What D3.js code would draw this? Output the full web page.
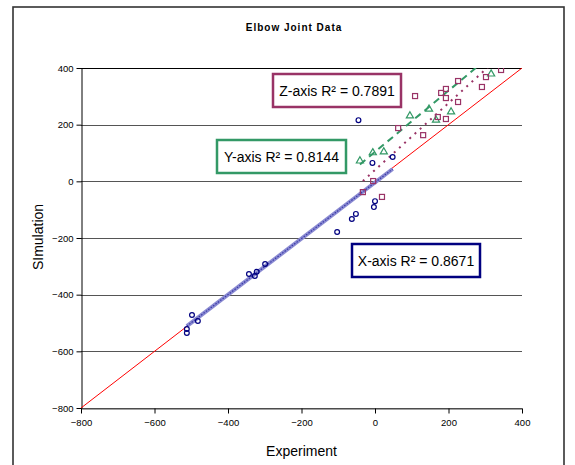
<!DOCTYPE html>
<html>
<head>
<meta charset="utf-8">
<script src="https://cdn.jsdelivr.net/npm/d3@7"></script>
<style>
  body { margin: 0; background: #fff; }
  svg { display: block; font-family: Arial, "Liberation Sans", sans-serif; }
</style>
</head>
<body>
<svg id="chart" width="575" height="465"></svg>
<script>
// Experiment vs simulation, one pair of arrays per axis
const xExp = [-45, -7, 48, 0, -3, -52, -63, -103, -299, -322, -343, -327, -498, -482, -512, -512];
const xSim = [216, 65, 86, -70, -91, -115, -133, -179, -292, -319, -327, -334, -472, -493, -521, -535];

const yExp = [-41, -6, 24, 95, 147, 166, 207, 316];
const ySim = [72, 101, 104, 231, 255, 216, 245, 379];

const zExp = [343, 302, 291, 226, 193, 180, 193, 226, 171, 193, 109, 131, 63, -5, -33, 19];
const zSim = [393, 368, 333, 354, 326, 312, 294, 280, 227, 220, 301, 163, 188, 1, -38, -55];

// linear trendlines as Excel drew them (slope, intercept) for X, Y, Z
const trendSlope = [0.99, 1.08, 1.18];
const trendIntercept = [-4, 104, 40];
const r2Labels = ["X-axis R\u00B2 = 0.8671", "Y-axis R\u00B2 = 0.8144", "Z-axis R\u00B2 = 0.7891"];

// the 1:1 reference line
const identity = [-800, 400];
const ticks = [-800, -600, -400, -200, 0, 200, 400];

const svg = d3.select("#chart");
const pL = 81, pR = 522, pT = 68, pB = 408;

const x = d3.scaleLinear().domain([-800, 400]).range([pL, pR]);
const y = d3.scaleLinear().domain([-800, 400]).range([pB, pT]);

// outer chart frame
svg.append("rect")
  .attr("x", 13).attr("y", 7)
  .attr("width", 551).attr("height", 470)
  .attr("fill", "none")
  .attr("stroke", "#333")
  .attr("stroke-width", 1.6);

svg.append("text")
  .attr("x", 294).attr("y", 31)
  .attr("text-anchor", "middle")
  .attr("font-size", 10)
  .attr("font-weight", "bold")
  .attr("letter-spacing", 1)
  .text("Elbow Joint Data");

svg.append("defs").append("clipPath").attr("id", "plot")
  .append("rect")
  .attr("x", pL).attr("y", pT)
  .attr("width", pR - pL).attr("height", pB - pT);

// gridlines
svg.append("g")
  .selectAll("line")
  .data(ticks)
  .join("line")
  .attr("x1", pL).attr("x2", pR)
  .attr("y1", d => Math.round(y(d)) + 0.5)
  .attr("y2", d => Math.round(y(d)) + 0.5)
  .attr("stroke", d => d === 400 ? "#000" : "#555")
  .attr("stroke-width", 1);

// axes
const xAxis = svg.append("g")
  .attr("transform", `translate(0,${Math.round(pB) + 0.5})`)
  .call(d3.axisBottom(x).tickValues(ticks).tickSize(5).tickPadding(6).tickSizeOuter(0));
const yAxis = svg.append("g")
  .attr("transform", `translate(${pL + 0.5},0)`)
  .call(d3.axisLeft(y).tickValues(ticks).tickSize(5).tickPadding(3).tickSizeOuter(0));

[xAxis, yAxis].forEach(a => {
  a.attr("font-family", null).attr("font-size", null);
  a.selectAll("text").attr("font-size", 9.5).attr("fill", "#000");
  a.selectAll("line").attr("stroke", "#000");
  a.select(".domain").attr("stroke", "#000");
});
xAxis.select(".domain").attr("stroke", "#444");

svg.append("text")
  .attr("x", (pL + pR) / 2).attr("y", 456)
  .attr("text-anchor", "middle")
  .attr("font-size", 14)
  .text("Experiment");

svg.append("text")
  .attr("transform", `translate(43,${(pT + pB) / 2 - 1}) rotate(-90)`)
  .attr("text-anchor", "middle")
  .attr("font-size", 14)
  .text("SImulation");

const plot = svg.append("g").attr("clip-path", "url(#plot)");

// 1:1 line
plot.append("line")
  .attr("x1", x(identity[0])).attr("y1", y(identity[0]))
  .attr("x2", x(identity[1])).attr("y2", y(identity[1]))
  .attr("stroke", "#ff0000")
  .attr("stroke-width", 1);

const series = [
  { exp: xExp, sim: xSim, color: "#000080" },
  { exp: yExp, sim: ySim, color: "#339966" },
  { exp: zExp, sim: zSim, color: "#993366" }
];

function trendPoints(i) {
  const [lo, hi] = d3.extent(series[i].exp);
  return [lo, hi].map(v => [v, trendSlope[i] * v + trendIntercept[i]]);
}
const line = d3.line().x(d => x(d[0])).y(d => y(d[1]));

// X trendline: thick hatched band
plot.append("path")
  .attr("d", line(trendPoints(0)))
  .attr("stroke", "#8a8ad2").attr("stroke-width", 4).attr("fill", "none");
plot.append("path")
  .attr("d", line(trendPoints(0)))
  .attr("stroke", "#3a3aa6").attr("stroke-width", 1.2)
  .attr("stroke-dasharray", "1.5 1.5").attr("fill", "none");

// Y trendline: dashed green
plot.append("path")
  .attr("d", line(trendPoints(1)))
  .attr("stroke", "#339966").attr("stroke-width", 2)
  .attr("stroke-dasharray", "7 5").attr("fill", "none");

// Z trendline: dotted maroon
plot.append("path")
  .attr("d", line(trendPoints(2)))
  .attr("stroke", "#993366").attr("stroke-width", 2)
  .attr("stroke-dasharray", "2 5").attr("fill", "none");

// markers
plot.append("g").selectAll("circle")
  .data(d3.zip(xExp, xSim))
  .join("circle")
  .attr("cx", d => x(d[0])).attr("cy", d => y(d[1]))
  .attr("r", 2.4)
  .attr("fill", "none").attr("stroke", "#000080").attr("stroke-width", 1.2);

plot.append("g").selectAll("path")
  .data(d3.zip(yExp, ySim))
  .join("path")
  .attr("d", d3.symbol(d3.symbolTriangle, 22))
  .attr("transform", d => `translate(${x(d[0])},${y(d[1])})`)
  .attr("fill", "none").attr("stroke", "#339966").attr("stroke-width", 1.2);

plot.append("g").selectAll("rect")
  .data(d3.zip(zExp, zSim))
  .join("rect")
  .attr("x", d => x(d[0]) - 2.5).attr("y", d => y(d[1]) - 2.5)
  .attr("width", 5).attr("height", 5)
  .attr("fill", "none").attr("stroke", "#993366").attr("stroke-width", 1.2);

// R² label boxes
const boxes = [
  { x: 352, y: 244, w: 128, h: 33 },
  { x: 217, y: 140, w: 129, h: 33 },
  { x: 273, y: 74, w: 128, h: 33 }
];
boxes.forEach((b, i) => {
  svg.append("rect")
    .attr("x", b.x).attr("y", b.y)
    .attr("width", b.w).attr("height", b.h)
    .attr("fill", "#fff")
    .attr("stroke", series[i].color)
    .attr("stroke-width", 2.5);
  svg.append("text")
    .attr("x", b.x + b.w / 2).attr("y", b.y + b.h / 2 + 5)
    .attr("text-anchor", "middle")
    .attr("font-size", 14)
    .text(r2Labels[i]);
});
</script>
</body>
</html>
